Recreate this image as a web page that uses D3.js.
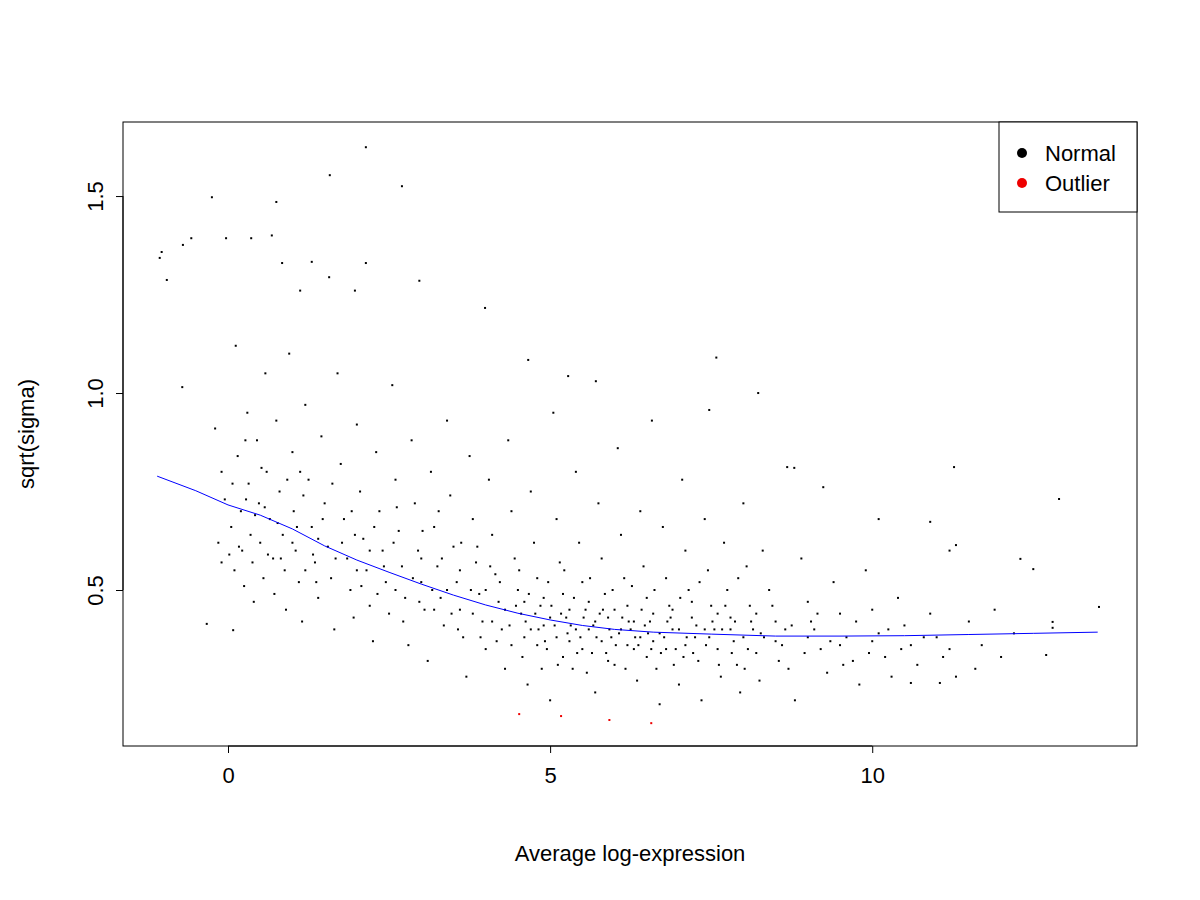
<!DOCTYPE html>
<html><head><meta charset="utf-8">
<script src="https://cdn.jsdelivr.net/npm/d3@7"></script>
<style>body{margin:0;background:#fff}</style></head>
<body><svg id="c" width="1200" height="900"></svg>
<script>
// Points (x = average log-expression, y = sqrt(sigma))
const normalPoints = [
[-1.06,1.343],[-1.03,1.358],[-0.95,1.287],[-0.70,1.376],[-0.57,1.393],[-0.71,1.015],[-0.25,1.497],[-0.03,1.393],[0.36,1.393],[0.68,1.40],[0.75,1.485],[0.84,1.33],[1.58,1.553],[2.14,1.624],[2.70,1.525],[2.14,1.33],[2.97,1.285],[3.99,1.216],[1.30,1.333],[1.12,1.26],[1.57,1.294],[1.97,1.26],[7.58,1.09],[8.23,1.0],[4.66,1.084],[5.28,1.043],[5.71,1.03],[6.58,0.93],[7.47,0.957],[12.9,0.731],[11.27,0.812],[13.52,0.457],[12.8,0.419],[12.8,0.404],[12.7,0.335],[12.3,0.579],[12.5,0.553],[11.3,0.614],[11.2,0.6],[10.9,0.673],[10.1,0.68],[10.6,0.264],[11.05,0.264],[9.24,0.761],[8.79,0.81],[8.68,0.812],[-0.33,0.414],[0.08,0.398],
[-0.2,0.91],[-0.1,0.80],[-0.15,0.62],[-0.1,0.57],[-0.05,0.73],[0.05,0.66],[0.1,0.55],[0.12,1.12],[0.15,0.84],[0.2,0.70],[0.22,0.60],[0.25,0.51],[0.3,0.95],[0.32,0.77],[0.35,0.64],[0.38,0.57],[0.4,0.47],[0.45,0.88],[0.48,0.72],[0.5,0.62],[0.55,0.53],[0.58,1.05],[0.6,0.80],[0.65,0.68],[0.7,0.58],[0.72,0.49],[0.75,0.93],[0.8,0.75],[0.85,0.64],[0.88,0.55],[0.9,0.45],[0.95,1.1],[1.0,0.85],[1.02,0.70],[1.05,0.60],[1.1,0.52],[1.15,0.42],[1.2,0.97],[1.25,0.78],[1.3,0.66],[1.35,0.57],[1.4,0.48],[1.45,0.89],[1.5,0.72],[1.55,0.61],[1.6,0.53],[1.65,0.40],[1.7,1.05],[1.75,0.82],[1.8,0.68],[1.85,0.58],[1.9,0.50],[1.95,0.43],[2.0,0.92],[2.05,0.75],[2.1,0.63],[2.15,0.55],[2.2,0.46],[2.25,0.37],[2.3,0.85],[2.35,0.70],[2.4,0.60],[2.45,0.52],[2.5,0.44],[2.55,1.02],[2.6,0.78],[2.65,0.65],[2.7,0.56],[2.75,0.48],[2.8,0.36],[2.85,0.88],[2.9,0.72],[2.95,0.60],[3.0,0.52],[3.05,0.45],[3.1,0.32],[3.15,0.80],[3.2,0.66],[3.25,0.56],[3.3,0.48],[3.35,0.41],[3.4,0.93],[3.45,0.74],[3.5,0.61],[3.55,0.52],[3.6,0.45],[3.65,0.38],[3.7,0.28],[3.75,0.84],[3.8,0.68],[3.85,0.57],[3.9,0.49],[3.95,0.42],[4.0,0.35],[4.05,0.78],[4.1,0.64],[4.15,0.54],[4.2,0.47],[4.25,0.40],[4.3,0.30],[4.35,0.88],[4.4,0.70],[4.45,0.58],[4.5,0.50],[4.55,0.44],[4.6,0.38],[4.65,0.26],[4.7,0.75],[4.75,0.62],[4.8,0.53],[4.85,0.46],[4.9,0.41],[4.95,0.35],[5.0,0.22],[5.05,0.95],[5.1,0.68],[5.15,0.57],[5.2,0.49],[5.25,0.43],[5.3,0.37],[5.35,0.30],[5.4,0.80],[5.45,0.62],[5.5,0.52],[5.55,0.45],[5.6,0.40],[5.65,0.34],[5.7,0.24],[5.75,0.72],[5.8,0.58],[5.85,0.49],[5.9,0.43],[5.95,0.38],[6.0,0.31],[6.05,0.86],[6.1,0.64],[6.15,0.53],[6.2,0.46],[6.25,0.40],[6.3,0.35],[6.35,0.27],[6.4,0.70],[6.45,0.56],[6.5,0.48],[6.55,0.42],[6.6,0.37],[6.65,0.30],[6.7,0.21],[6.75,0.66],[6.8,0.53],[6.85,0.46],[6.9,0.40],[6.95,0.35],[7.0,0.26],[7.05,0.78],[7.1,0.60],[7.15,0.50],[7.2,0.43],[7.25,0.38],[7.3,0.32],[7.35,0.22],[7.4,0.68],[7.45,0.55],[7.5,0.46],[7.55,0.40],[7.6,0.35],[7.65,0.28],[7.7,0.62],[7.75,0.50],[7.8,0.43],[7.85,0.37],[7.9,0.31],[7.95,0.24],[8.0,0.72],[8.05,0.56],[8.1,0.46],[8.15,0.40],[8.2,0.34],[8.25,0.27],[8.3,0.60],[8.4,0.50],[8.5,0.42],[8.6,0.36],[8.7,0.30],[8.8,0.22],[8.9,0.58],[9.0,0.47],[9.1,0.40],[9.2,0.35],[9.3,0.29],[9.4,0.52],[9.5,0.44],[9.6,0.38],[9.7,0.32],[9.8,0.26],[9.9,0.55],[10.0,0.45],[10.1,0.39],[10.2,0.33],[10.3,0.28],[10.4,0.48],[10.5,0.41],[10.6,0.36],[10.7,0.31],[10.9,0.44],[11.0,0.38],[11.1,0.33],[11.3,0.28],[11.5,0.42],[11.7,0.36],[11.9,0.45],[12.0,0.33],[12.2,0.39],
[1.0,0.62],[1.2,0.55],[1.4,0.63],[2.0,0.55],[2.2,0.60],[2.6,0.50],[3.0,0.58],[3.2,0.45],[3.4,0.50],[3.6,0.55],[3.8,0.44],[4.0,0.50],[4.1,0.42],[4.3,0.45],[4.4,0.36],[4.6,0.47],[4.7,0.40],[4.8,0.36],[4.9,0.48],[5.0,0.43],[5.1,0.38],[5.2,0.33],[5.3,0.45],[5.4,0.40],[5.5,0.35],[5.6,0.47],[5.7,0.42],[5.8,0.37],[5.9,0.32],[6.0,0.45],[6.1,0.40],[6.2,0.36],[6.3,0.42],[6.4,0.38],[6.5,0.33],[6.6,0.44],[6.7,0.39],[6.8,0.35],[6.9,0.45],[7.0,0.40],[7.1,0.36],[7.2,0.47],[7.4,0.40],[7.6,0.44],[7.8,0.40],[8.0,0.38],[8.2,0.44],[8.5,0.37],[9.0,0.38],[9.5,0.36],[10.0,0.37],
[0.07,0.77],[0.17,0.61],[0.27,0.88],[0.42,0.69],[0.52,0.81],[0.62,0.59],[0.77,0.67],[0.92,0.78],[1.07,0.66],[1.17,0.74],[1.32,0.59],[1.47,0.68],[1.62,0.77],[1.77,0.62],[1.92,0.70],[2.07,0.51],[2.27,0.66],[2.42,0.56],[2.57,0.62],[2.72,0.42],[2.87,0.53],[3.02,0.65],[3.17,0.50],[3.32,0.58],[3.47,0.44],[3.62,0.62],[3.77,0.50],[3.92,0.38],[4.07,0.56],[4.22,0.52],[4.37,0.41],[4.52,0.55],[4.57,0.33],[4.67,0.49],[4.77,0.44],[4.87,0.30],[4.97,0.52],[5.07,0.41],[5.12,0.31],[5.22,0.55],[5.27,0.39],[5.37,0.48],[5.42,0.34],[5.52,0.43],[5.57,0.29],[5.62,0.53],[5.72,0.38],[5.82,0.45],[5.87,0.34],[5.97,0.50],[6.02,0.36],[6.12,0.43],[6.17,0.30],[6.27,0.51],[6.37,0.36],[6.42,0.45],[6.52,0.39],[6.62,0.50],[6.72,0.34],[6.82,0.42],[6.92,0.31],[7.02,0.48],[7.12,0.38],[7.22,0.34],[7.32,0.52],[7.42,0.36],[7.52,0.42],[7.62,0.31],[7.72,0.46],[7.82,0.34],[7.92,0.53],[8.02,0.30],[8.12,0.42],[8.32,0.38],[8.45,0.46],[8.55,0.32],[8.75,0.41],[8.95,0.34],[9.15,0.44],[9.35,0.37],[9.55,0.31],[9.75,0.42],[9.95,0.34],[10.25,0.40],[10.45,0.35],[10.8,0.38],[11.2,0.35],[11.6,0.30],
[0.02,0.59],[0.28,0.73],[0.57,0.71],[0.82,0.58],[1.12,0.80],[1.37,0.52],[1.67,0.58],[1.97,0.64],[2.32,0.49],[2.62,0.71],[2.97,0.47],[3.27,0.70],[3.57,0.40],[3.87,0.61],[4.17,0.37],[4.47,0.46],[4.62,0.42],[4.82,0.40],[4.92,0.37],[5.02,0.46],[5.17,0.44],[5.32,0.41],[5.47,0.38],[5.67,0.41],[5.77,0.44],[5.92,0.40],[6.07,0.39],[6.22,0.42],[6.32,0.38],[6.47,0.41],[6.57,0.35],[6.77,0.38],[6.87,0.43],[7.07,0.33],[7.27,0.41],[7.47,0.38],[7.67,0.40],[7.87,0.42],[8.07,0.35],[8.27,0.39],[8.65,0.40],[9.05,0.42]
];
const outlierPoints = [[4.52,0.185],[5.17,0.180],[5.92,0.170],[6.57,0.162]];
const trendX = [-1.1,-0.5,0,0.5,1,1.5,2,2.5,3,3.5,4,4.5,5,5.5,6,6.6,7.5,8.5,9.5,10.5,11.5,12.5,13.5];
const trendY = [0.789,0.752,0.716,0.690,0.655,0.612,0.576,0.545,0.515,0.487,0.462,0.441,0.424,0.410,0.400,0.393,0.388,0.383,0.383,0.384,0.387,0.390,0.393];
const xTicks = [0,5,10];
const yTicks = [0.5,1.0,1.5];
const legendLabels = ["Normal","Outlier"];
const legendColors = ["#000","#e00"];

const svg = d3.select("#c");
const L=123,R=1137,T=122,B=746;
const x = d3.scaleLinear().domain([-1.63,14.11]).range([L,R]);
const y = d3.scaleLinear().domain([0.104,1.688]).range([B,T]);
const font="Liberation Sans, Arial, sans-serif";
const fs=22;

svg.append("g").selectAll("rect").data(normalPoints).join("rect")
  .attr("x",d=>x(d[0])-1).attr("y",d=>y(d[1])-1).attr("width",2).attr("height",2).attr("fill","#000");
svg.append("g").selectAll("rect").data(outlierPoints).join("rect")
  .attr("x",d=>x(d[0])-1).attr("y",d=>y(d[1])-1).attr("width",2).attr("height",2).attr("fill","#e00");
svg.append("path").datum(trendX.map((v,i)=>[v,trendY[i]]))
  .attr("d",d3.line().x(d=>x(d[0])).y(d=>y(d[1]))).attr("fill","none").attr("stroke","#00f").attr("stroke-width",1);
svg.append("rect").attr("x",L).attr("y",T).attr("width",R-L).attr("height",B-T).attr("fill","none").attr("stroke","#000");

const gx = svg.append("g").attr("transform",`translate(0,${B})`)
  .call(d3.axisBottom(x).tickValues(xTicks).tickSize(7).tickPadding(14).tickFormat(d3.format("d")));
gx.select(".domain").attr("d",`M${x(0)},0H${x(10)}`);
gx.selectAll("text").attr("font-size",fs).attr("font-family",font);
const gy = svg.append("g").attr("transform",`translate(${L},0)`)
  .call(d3.axisLeft(y).tickValues(yTicks).tickSize(7).tickFormat(d3.format(".1f")));
gy.select(".domain").attr("d",`M0,${y(0.5)}V${y(1.5)}`);
gy.selectAll("text").attr("font-size",fs).attr("font-family",font)
  .attr("x",0).attr("y",0).attr("dy","0").attr("text-anchor","middle")
  .attr("transform","translate(-20,0) rotate(-90)");
svg.append("text").attr("x",(L+R)/2).attr("y",861).attr("text-anchor","middle").attr("font-size",fs).attr("font-family",font).text("Average log-expression");
svg.append("text").attr("transform",`translate(34,${(T+B)/2}) rotate(-90)`).attr("text-anchor","middle").attr("font-size",fs).attr("font-family",font).text("sqrt(sigma)");

svg.append("rect").attr("x",999).attr("y",T).attr("width",R-999).attr("height",90).attr("fill","#fff").attr("stroke","#000");
legendLabels.forEach((l,i)=>{
  svg.append("circle").attr("cx",1022).attr("cy",153+i*30).attr("r",5).attr("fill",legendColors[i]);
  svg.append("text").attr("x",1045).attr("y",161+i*30).attr("font-size",fs).attr("font-family",font).text(l);
});
</script></body></html>
